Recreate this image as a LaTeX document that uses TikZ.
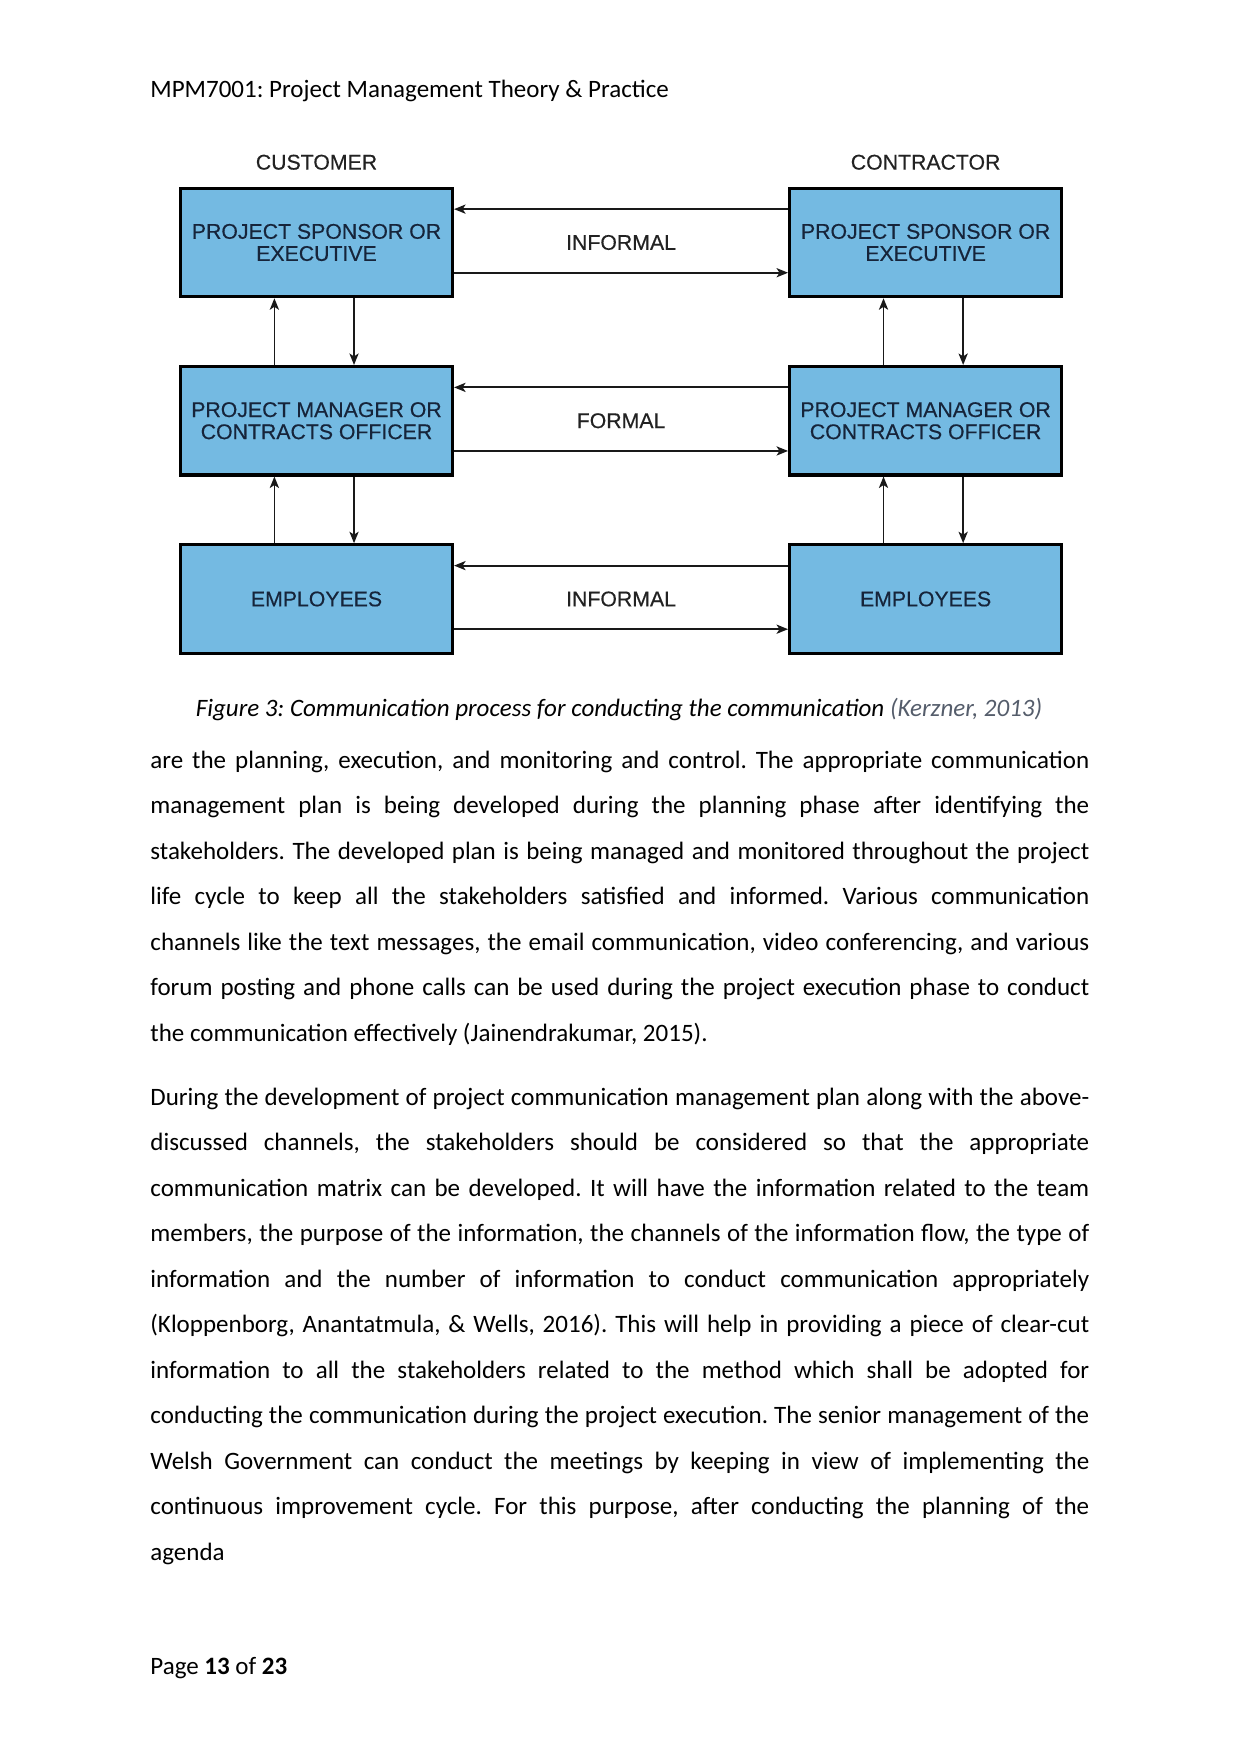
\documentclass[tikz,border=0pt]{standalone}
\usepackage{fontspec}
\setmainfont{Carlito}
\newfontfamily\diagfont[FakeBold=0.4]{Liberation Sans}
\usetikzlibrary{calc,positioning,arrows.meta}
\definecolor{boxblue}{HTML}{74BAE2}
\definecolor{boxink}{HTML}{16243A}
\definecolor{lblink}{HTML}{222222}
\definecolor{citegray}{HTML}{555D6B}
\newcommand{\Body}{\fontsize{12}{21.85}\selectfont}
\newcommand{\Diag}{\diagfont\fontsize{10.2}{10.6}\selectfont}
\frenchspacing
\tikzset{
  party/.style={draw=black, line width=1.5pt, fill=boxblue, text=boxink, font=\Diag,
    align=center, minimum width=130.5pt, minimum height=52pt, inner sep=2pt},
  flow/.style={-{Stealth[length=5.5pt,width=4.4pt,inset=1.4pt]}, line width=0.85pt, draw=black!90},
  chan/.style={text=lblink, font=\Diag},
  prose/.style={anchor=base west, text width=450.4pt, align=justify, font=\Body, inner sep=0pt},
}

\begin{document}
\begin{tikzpicture}[x=0.4797pt, y=-0.4797pt, node distance=32pt and 160.2pt]
  \useasboundingbox (0,0) rectangle (1241,1754);
  \node[anchor=base west, font=\Body, inner sep=0pt] (hdr) at (150,98) {MPM7001: Project Management Theory \& Practice};

  % customer side / contractor side
  \node[party] (cse) at (316.5,242.5) {PROJECT SPONSOR OR\\EXECUTIVE};
  \node[party, below=of cse] (cpm) {PROJECT MANAGER OR\\CONTRACTS OFFICER};
  \node[party, below=of cpm] (cem) {EMPLOYEES};
  \node[party, right=of cse] (kse) {PROJECT SPONSOR OR\\EXECUTIVE};
  \node[party, right=of cpm] (kpm) {PROJECT MANAGER OR\\CONTRACTS OFFICER};
  \node[party, right=of cem] (kem) {EMPLOYEES};
  \node[chan, above=4.6pt of cse] (cust) {CUSTOMER};
  \node[chan, above=4.6pt of kse] (cont) {CONTRACTOR};

  % channels between the two sides
  \foreach \r/\t in {se/INFORMAL, pm/FORMAL, em/INFORMAL}{
    \node[chan] (ch\r) at ($(c\r.east)!0.5!(k\r.west)$) {\t};
    \draw[flow] ([yshift=16pt]k\r.west) -- ([yshift=16pt]c\r.east);
    \draw[flow] ([yshift=-14.5pt]c\r.east) -- ([yshift=-14.5pt]k\r.west);}
  \foreach \s in {c,k}
    \foreach \a/\b in {se/pm, pm/em}{
      \draw[flow] ([xshift=-20.2pt]\s\b.north) -- ([xshift=-20.2pt]\s\a.south);
      \draw[flow] ([xshift=18pt]\s\a.south) -- ([xshift=18pt]\s\b.north);}

  \node[anchor=base, font=\Body\itshape] (cap) at (619,716)
    {Figure 3: Communication process for conducting the communication {\color{citegray}(Kerzner, 2013)}};

  \node[prose] (para1) at (150,768) {are the planning, execution, and monitoring and control. The appropriate communication\linebreak
    management plan is being developed during the planning phase after identifying the\linebreak
    stakeholders. The developed plan is being managed and monitored throughout the project\linebreak
    life cycle to keep all the stakeholders satisfied and informed. Various communication\linebreak
    channels like the text messages, the email communication, video conferencing, and various\linebreak
    forum posting and phone calls can be used during the project execution phase to conduct\linebreak
    the communication effectively (Jainendrakumar, 2015).};
  \node[prose] (para2) at (150,1105) {During the development of project communication management plan along with the above-\linebreak
    discussed channels, the stakeholders should be considered so that the appropriate\linebreak
    communication matrix can be developed. It will have the information related to the team\linebreak
    members, the purpose of the information, the channels of the information flow, the type of\linebreak
    information and the number of information to conduct communication appropriately\linebreak
    (Kloppenborg, Anantatmula, \& Wells, 2016). This will help in providing a piece of clear-cut\linebreak
    information to all the stakeholders related to the method which shall be adopted for\linebreak
    conducting the communication during the project execution. The senior management of the\linebreak
    Welsh Government can conduct the meetings by keeping in view of implementing the\linebreak
    continuous improvement cycle. For this purpose, after conducting the planning of the\linebreak
    agenda};

  \node[anchor=base west, font=\Body, inner sep=0pt] (ftr) at (150,1674) {Page \textbf{13} of \textbf{23}};
\end{tikzpicture}
\end{document}
